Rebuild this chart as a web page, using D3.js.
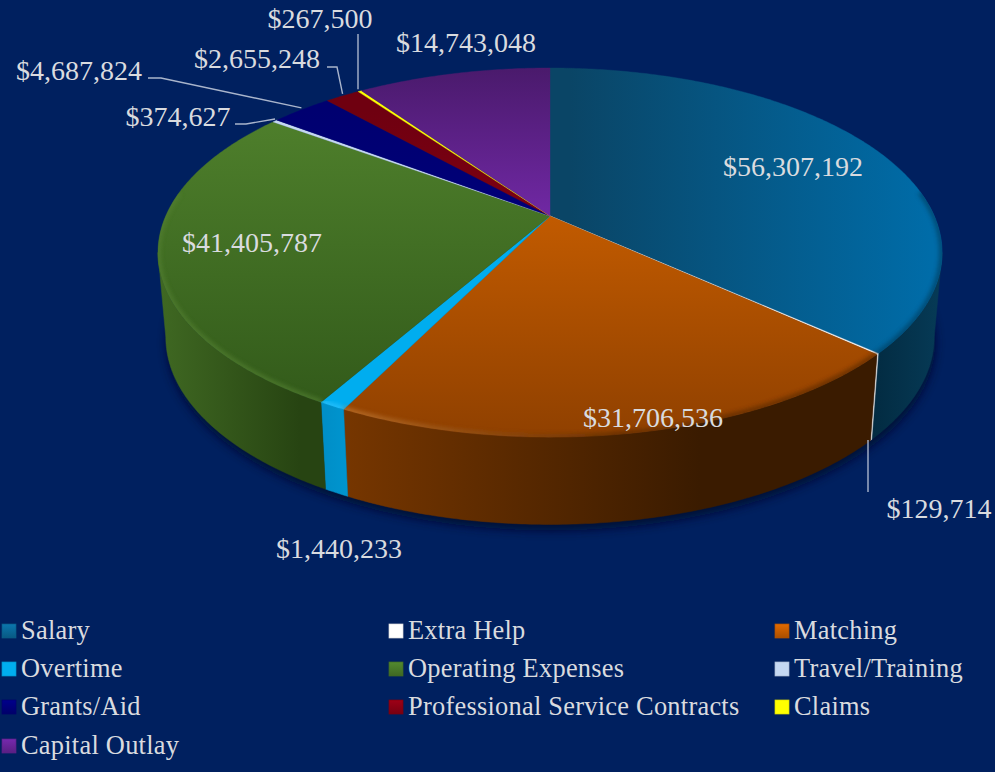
<!DOCTYPE html>
<html>
<head>
<meta charset="utf-8">
<script src="https://cdn.jsdelivr.net/npm/d3@7"></script>
<style>
html, body { margin: 0; padding: 0; background: #00205f; }
svg { display: block; }
text { font-family: "Liberation Serif", serif; fill: #d9dbdf; }
</style>
</head>
<body>
<svg id="chart" width="995" height="772"></svg>
<script>
const categories = ["Salary", "Extra Help", "Matching", "Overtime", "Operating Expenses", "Travel/Training", "Grants/Aid", "Professional Service Contracts", "Claims", "Capital Outlay"];
const amounts = [56307192, 129714, 31706536, 1440233, 41405787, 374627, 4687824, 2655248, 267500, 14743048];

// colours per slice: legend/flat colour, then top face gradient, then wall gradient
const baseColors = ["#0a6a9c", "#ffffff", "#cc5f00", "#00adef", "#4b7c2a", "#c5d8f2", "#00007e", "#8e0014", "#ffff00", "#6a259c"];
const topFrom = ["#0a4566", "#ffffff", "#d96700", "#00adef", "#4f802c", "#c5d8f2", "#000070", "#6f0010", "#ffff00", "#4a1a6c"];
const topTo = ["#006ca8", "#ffffff", "#8f4000", "#00adef", "#2f5618", "#c5d8f2", "#00008a", "#9a0016", "#ffff00", "#7028a4"];
const wallFrom = ["#063a56", "#e8e8e8", "#763600", "#0095cf", "#3f6822", "#a8b8d0", "#000060", "#5a000c", "#cccc00", "#3a1454"];
const wallTo = ["#022a40", "#d0d0d0", "#3a1b00", "#008fc8", "#274412", "#a8b8d0", "#000060", "#5a000c", "#cccc00", "#3a1454"];
const rimFrom = ["#06527c", "#ffffff", "#c27a34", "#30c4ff", "#527f32", "#ffffff", "#2020a0", "#b02030", "#ffff66", "#8a40c0"];
const rimTo = ["#063f62", "#ffffff", "#5a2a00", "#30c4ff", "#527f32", "#ffffff", "#2020a0", "#b02030", "#ffff66", "#8a40c0"];

// label placement (text centre), leader points go from the text towards the rim
const labelPos = [[793, 166], [939, 508], [653, 417], [339, 548], [252, 242], [178, 116], [79, 70], [257, 58], [320, 18], [466, 42]];
const leaderBends = { 1: [[868, 492]], 5: [[235, 124], [246, 124]], 6: [[148, 78], [161, 78]], 7: [[327, 67], [337, 67]], 8: [[358, 34]] };
const verticalLeaders = [1, 8];

const legendCols = [2, 389, 775], legendRows = [631, 669, 707, 746];

const width = 995, height = 772;
const cx = 550, cy = 217.5;      // centre of the rim projection
const apex = [550, 216];         // where the slices meet on screen
const persp = 0.19, radX = 384.9, radY = 177.9;

const svg = d3.select("#chart");
svg.append("rect").attr("width", width).attr("height", height).attr("fill", "#00205f");
const defs = svg.append("defs");

function rimTop(angle) {
    const u = Math.sin(angle), v = -Math.cos(angle);
    const d = 1 - persp * v;
    return [cx + radX * u / d, cy + radY * v / d];
}
function rimBottom(angle) {
    const p = rimTop(angle);
    return [cx + (p[0] - cx) * 0.98, p[1] + 84 + (p[1] - cy) * 0.015];
}
function sampleAngles(a0, a1) {
    const n = Math.max(2, Math.ceil((a1 - a0) / 0.01));
    return d3.range(n + 1).map(i => a0 + (a1 - a0) * i / n);
}

const line = d3.line();
const fullCircle = sampleAngles(0, Math.PI * 2);
const slices = d3.pie().sort(null).value(d => d)(amounts);

// the side is only seen between the two widest points of the rim
const wallStart = Math.acos(-persp), wallEnd = Math.PI * 2 - wallStart;

function addGradient(id, x1, y1, x2, y2, from, to) {
    const g = defs.append("linearGradient").attr("id", id)
        .attr("gradientUnits", "userSpaceOnUse")
        .attr("x1", x1).attr("y1", y1).attr("x2", x2).attr("y2", y2);
    g.append("stop").attr("offset", 0).attr("stop-color", from);
    g.append("stop").attr("offset", 1).attr("stop-color", to);
}

// gradients: salary runs left to right, the others top to bottom, walls across their width
slices.forEach((s, i) => {
    if (i === 0) addGradient("top" + i, 570, 0, 930, 0, topFrom[i], topTo[i]);
    else addGradient("top" + i, 0, i === 9 ? 68 : 110, 0, i === 9 ? 216 : 440, topFrom[i], topTo[i]);
    const xa = rimBottom(s.startAngle)[0], xb = rimBottom(s.endAngle)[0];
    if (i === 0) addGradient("wall" + i, 868, 0, 940, 0, wallTo[i], wallFrom[i]);
    else if (i === 2) addGradient("wall" + i, 345, 0, 700, 0, wallFrom[i], wallTo[i]);
    else if (i === 4) addGradient("wall" + i, 160, 0, 300, 0, wallFrom[i], wallTo[i]);
    else addGradient("wall" + i, xa, 0, xb, 0, wallFrom[i], wallTo[i]);
    const rimA = rimTop(s.startAngle)[0], rimB = rimTop(s.endAngle)[0];
    if (i === 2) addGradient("rim" + i, 345, 0, 620, 0, rimFrom[i], rimTo[i]);
    else addGradient("rim" + i, rimA, 0, rimB === rimA ? rimA + 1 : rimB, 0, rimFrom[i], rimTo[i]);
});

const blur = defs.append("filter").attr("id", "shadow").attr("x", "-10%").attr("y", "-10%").attr("width", "120%").attr("height", "130%");
blur.append("feGaussianBlur").attr("stdDeviation", 5);
const soft = defs.append("filter").attr("id", "soft").attr("x", "-10%").attr("y", "-10%").attr("width", "120%").attr("height", "120%");
soft.append("feGaussianBlur").attr("stdDeviation", 2.2);
defs.append("clipPath").attr("id", "topClip").append("path").attr("d", line(fullCircle.map(rimTop)) + "Z");

// soft shadow under the pie
svg.append("path")
    .attr("d", line(fullCircle.map(rimBottom).map(p => [p[0] + 1, p[1] + 6])) + "Z")
    .attr("fill", "#000a2e").attr("opacity", 0.85).attr("filter", "url(#shadow)");

// outer walls
const walls = svg.append("g");
slices.forEach((s, i) => {
    const a0 = Math.max(s.startAngle, wallStart), a1 = Math.min(s.endAngle, wallEnd);
    if (a0 >= a1) return;
    const angs = sampleAngles(a0, a1);
    const pts = angs.map(rimTop).concat(angs.slice().reverse().map(rimBottom));
    walls.append("path").attr("d", line(pts) + "Z")
        .attr("fill", "url(#wall" + i + ")").attr("stroke", "url(#wall" + i + ")").attr("stroke-width", 0.5);
});

// top faces
const tops = svg.append("g");
slices.forEach((s, i) => {
    const pts = [apex].concat(sampleAngles(s.startAngle, s.endAngle).map(rimTop));
    tops.append("path").attr("d", line(pts) + "Z")
        .attr("fill", "url(#top" + i + ")").attr("stroke", "url(#top" + i + ")").attr("stroke-width", 0.4);
});

// bevel highlight along the near rim
const bevel = svg.append("g").attr("clip-path", "url(#topClip)");
slices.forEach((s, i) => {
    const angs = sampleAngles(s.startAngle, s.endAngle).filter(a => -Math.cos(a) > -0.15);
    if (angs.length < 2) return;
    bevel.append("path").attr("d", line(angs.map(rimTop)))
        .attr("fill", "none").attr("stroke", "url(#rim" + i + ")").attr("stroke-width", 6)
        .attr("opacity", 0.7).attr("filter", "url(#soft)");
});

// leader lines
slices.forEach((s, i) => {
    if (!leaderBends[i]) return;
    const mid = (s.startAngle + s.endAngle) / 2;
    const end = i === 1 ? rimBottom(mid) : rimTop(mid);
    const bends = leaderBends[i];
    if (verticalLeaders.includes(i)) end[0] = bends[bends.length - 1][0];
    const pts = bends.concat([[end[0], end[1] + (i === 1 ? 0 : -2)]]);
    svg.append("path").attr("d", line(pts))
        .attr("fill", "none").attr("stroke", "#a9b5cc").attr("stroke-width", 1.4);
});

// data labels
svg.append("g").selectAll("text").data(amounts).join("text")
    .attr("x", (d, i) => labelPos[i][0])
    .attr("y", (d, i) => labelPos[i][1])
    .attr("dy", "0.35em")
    .attr("text-anchor", "middle")
    .attr("font-size", 28)
    .text(d => "$" + d3.format(",")(d));

// legend, three columns filled row by row
categories.forEach((c, i) => {
    const x = legendCols[i % 3], y = legendRows[Math.floor(i / 3)];
    const col = baseColors[i];
    const flat = d3.hsl(col).l > 0.45;
    addGradient("leg" + i, 0, y - 7, 0, y + 7, flat ? col : d3.color(col).brighter(0.3), flat ? col : d3.color(col).darker(0.5));
    svg.append("rect").attr("x", x).attr("y", y - 7).attr("width", 14).attr("height", 14)
        .attr("fill", "url(#leg" + i + ")").attr("stroke", d3.color(col).darker(0.4)).attr("stroke-width", 0.7);
    svg.append("text").attr("x", x + 19).attr("y", y).attr("dy", "0.32em")
        .attr("font-size", 26.4).attr("letter-spacing", 0.25).text(c);
});
</script>
</body>
</html>
